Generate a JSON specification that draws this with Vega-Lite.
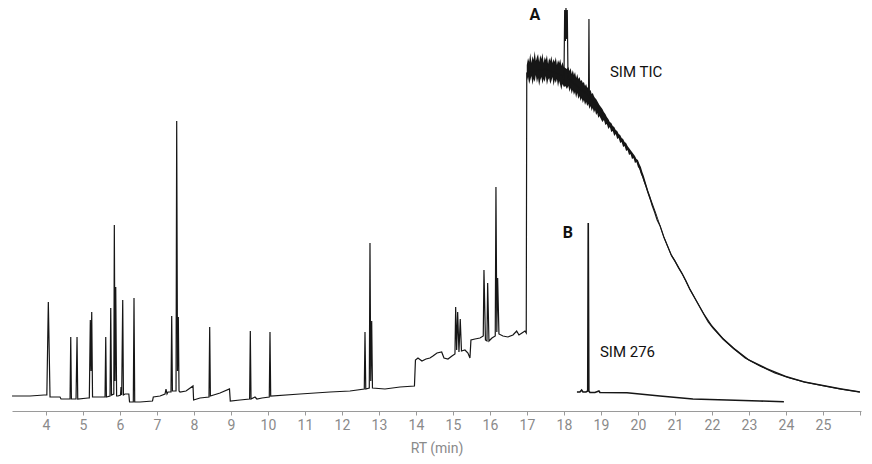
{
  "$schema": "https://vega.github.io/schema/vega-lite/v6.json",
  "width": 849,
  "height": 411,
  "autosize": {"type": "none"},
  "padding": {"left": 12, "top": 0, "right": 11, "bottom": 53},
  "background": "white",
  "config": {"view": {"stroke": null}, "font": "Roboto"},
  "datasets": {
    "traces": [
      {"s":"A","rt":3.081,"i":15},{"s":"A","rt":3.568,"i":15},{"s":"A","rt":3.946,"i":16},{"s":"A","rt":4.022,"i":16},{"s":"A","rt":4.062,"i":109},{"s":"A","rt":4.108,"i":14},
      {"s":"A","rt":4.378,"i":14},{"s":"A","rt":4.405,"i":12},{"s":"A","rt":4.649,"i":12},{"s":"A","rt":4.668,"i":74},{"s":"A","rt":4.686,"i":12},{"s":"A","rt":4.811,"i":12},
      {"s":"A","rt":4.838,"i":74},{"s":"A","rt":4.857,"i":12},{"s":"A","rt":5.135,"i":13},{"s":"A","rt":5.17,"i":13},{"s":"A","rt":5.197,"i":91},{"s":"A","rt":5.216,"i":40},
      {"s":"A","rt":5.235,"i":99},{"s":"A","rt":5.257,"i":14},{"s":"A","rt":5.459,"i":14},{"s":"A","rt":5.595,"i":14},{"s":"A","rt":5.614,"i":74},{"s":"A","rt":5.632,"i":14},
      {"s":"A","rt":5.73,"i":15},{"s":"A","rt":5.749,"i":103},{"s":"A","rt":5.77,"i":16},{"s":"A","rt":5.832,"i":17},{"s":"A","rt":5.846,"i":186},{"s":"A","rt":5.865,"i":30},
      {"s":"A","rt":5.884,"i":124},{"s":"A","rt":5.908,"i":15},{"s":"A","rt":5.946,"i":15},{"s":"A","rt":6.014,"i":16},{"s":"A","rt":6.027,"i":24},{"s":"A","rt":6.045,"i":16},
      {"s":"A","rt":6.073,"i":111},{"s":"A","rt":6.092,"i":16},{"s":"A","rt":6.135,"i":17},{"s":"A","rt":6.238,"i":17},{"s":"A","rt":6.257,"i":9},{"s":"A","rt":6.359,"i":9},
      {"s":"A","rt":6.378,"i":113},{"s":"A","rt":6.397,"i":9},{"s":"A","rt":6.541,"i":9},{"s":"A","rt":6.878,"i":10},{"s":"A","rt":6.9,"i":14},{"s":"A","rt":7.081,"i":15},
      {"s":"A","rt":7.216,"i":17},{"s":"A","rt":7.243,"i":22},{"s":"A","rt":7.27,"i":17},{"s":"A","rt":7.297,"i":19},{"s":"A","rt":7.378,"i":19},{"s":"A","rt":7.397,"i":95},
      {"s":"A","rt":7.416,"i":20},{"s":"A","rt":7.514,"i":20},{"s":"A","rt":7.532,"i":290},{"s":"A","rt":7.554,"i":40},{"s":"A","rt":7.576,"i":94},{"s":"A","rt":7.595,"i":20},
      {"s":"A","rt":7.622,"i":19},{"s":"A","rt":7.784,"i":20},{"s":"A","rt":7.973,"i":25},{"s":"A","rt":7.989,"i":11},{"s":"A","rt":8.162,"i":13},{"s":"A","rt":8.405,"i":14},
      {"s":"A","rt":8.424,"i":84},{"s":"A","rt":8.443,"i":15},{"s":"A","rt":8.703,"i":18},{"s":"A","rt":8.959,"i":22},{"s":"A","rt":8.981,"i":10},{"s":"A","rt":9.243,"i":11},
      {"s":"A","rt":9.503,"i":12},{"s":"A","rt":9.522,"i":80},{"s":"A","rt":9.541,"i":12},{"s":"A","rt":9.649,"i":14},{"s":"A","rt":9.7,"i":12},{"s":"A","rt":9.838,"i":13},
      {"s":"A","rt":10.035,"i":14},{"s":"A","rt":10.054,"i":79},{"s":"A","rt":10.073,"i":15},{"s":"A","rt":10.865,"i":17},{"s":"A","rt":11.676,"i":19},{"s":"A","rt":12.216,"i":20},
      {"s":"A","rt":12.603,"i":22},{"s":"A","rt":12.622,"i":79},{"s":"A","rt":12.643,"i":22},{"s":"A","rt":12.738,"i":23},{"s":"A","rt":12.757,"i":168},{"s":"A","rt":12.778,"i":30},
      {"s":"A","rt":12.803,"i":90},{"s":"A","rt":12.824,"i":23},{"s":"A","rt":13.162,"i":22},{"s":"A","rt":13.568,"i":24},{"s":"A","rt":13.959,"i":25},{"s":"A","rt":13.986,"i":51},
      {"s":"A","rt":14.054,"i":53},{"s":"A","rt":14.162,"i":50},{"s":"A","rt":14.27,"i":52},{"s":"A","rt":14.378,"i":53},{"s":"A","rt":14.459,"i":55},{"s":"A","rt":14.568,"i":58},
      {"s":"A","rt":14.695,"i":59},{"s":"A","rt":14.757,"i":53},{"s":"A","rt":14.865,"i":52},{"s":"A","rt":14.973,"i":55},{"s":"A","rt":15.054,"i":57},{"s":"A","rt":15.073,"i":104},
      {"s":"A","rt":15.1,"i":61},{"s":"A","rt":15.127,"i":99},{"s":"A","rt":15.162,"i":59},{"s":"A","rt":15.197,"i":92},{"s":"A","rt":15.23,"i":60},{"s":"A","rt":15.324,"i":61},
      {"s":"A","rt":15.405,"i":58},{"s":"A","rt":15.459,"i":53},{"s":"A","rt":15.486,"i":71},{"s":"A","rt":15.595,"i":72},{"s":"A","rt":15.73,"i":73},{"s":"A","rt":15.819,"i":75},
      {"s":"A","rt":15.838,"i":141},{"s":"A","rt":15.878,"i":71},{"s":"A","rt":15.919,"i":70},{"s":"A","rt":15.938,"i":128},{"s":"A","rt":15.973,"i":70},{"s":"A","rt":16.054,"i":73},
      {"s":"A","rt":16.143,"i":75},{"s":"A","rt":16.162,"i":224},{"s":"A","rt":16.186,"i":79},{"s":"A","rt":16.208,"i":133},{"s":"A","rt":16.243,"i":77},{"s":"A","rt":16.351,"i":75},
      {"s":"A","rt":16.486,"i":74},{"s":"A","rt":16.622,"i":76},{"s":"A","rt":16.722,"i":80},{"s":"A","rt":16.784,"i":76},{"s":"A","rt":16.865,"i":78},{"s":"A","rt":16.946,"i":80},
      {"s":"A","rt":16.981,"i":78},{"s":"A","rt":16.995,"i":338},
      {"s":"A","rt":17.5,"i":342},{"s":"A","rt":17.98,"i":335},{"s":"A","rt":18.0,"i":330},
      {"s":"A","rt":18.02,"i":401},{"s":"A","rt":18.04,"i":370},{"s":"A","rt":18.055,"i":403},{"s":"A","rt":18.075,"i":372},{"s":"A","rt":18.09,"i":401},
      {"s":"A","rt":18.11,"i":333},{"s":"A","rt":18.4,"i":323},{"s":"A","rt":18.665,"i":316},{"s":"A","rt":18.676,"i":392},{"s":"A","rt":18.688,"i":314},
      {"s":"A","rt":19.0,"i":300},{"s":"A","rt":19.5,"i":273},{"s":"A","rt":20.0,"i":248},{"s":"A","rt":20.32,"i":214},
      {"s":"A","rt":20.38,"i":206},
      {"s":"A","rt":20.45,"i":199},{"s":"A","rt":20.52,"i":191},{"s":"A","rt":20.6,"i":185},{"s":"A","rt":20.7,"i":174},{"s":"A","rt":20.8,"i":165},{"s":"A","rt":20.9,"i":156},
      {"s":"A","rt":21.0,"i":150},{"s":"A","rt":21.1,"i":143},{"s":"A","rt":21.2,"i":137},{"s":"A","rt":21.3,"i":130},{"s":"A","rt":21.4,"i":122},{"s":"A","rt":21.55,"i":112},
      {"s":"A","rt":21.73,"i":100},{"s":"A","rt":21.9,"i":89},{"s":"A","rt":22.03,"i":83},{"s":"A","rt":22.3,"i":72},{"s":"A","rt":22.57,"i":63},{"s":"A","rt":22.9,"i":53},
      {"s":"A","rt":23.3,"i":45},{"s":"A","rt":23.7,"i":38},{"s":"A","rt":24.1,"i":33},{"s":"A","rt":24.5,"i":29},{"s":"A","rt":24.9,"i":26},{"s":"A","rt":25.46,"i":22},
      {"s":"A","rt":26.0,"i":19},
      {"s":"B","rt":18.351,"i":19},{"s":"B","rt":18.432,"i":19},{"s":"B","rt":18.478,"i":21},{"s":"B","rt":18.514,"i":19},{"s":"B","rt":18.595,"i":19},{"s":"B","rt":18.643,"i":20},
      {"s":"B","rt":18.657,"i":188},{"s":"B","rt":18.673,"i":20},{"s":"B","rt":18.703,"i":18.5},{"s":"B","rt":18.838,"i":18.5},{"s":"B","rt":18.946,"i":20},{"s":"B","rt":18.973,"i":18.5},
      {"s":"B","rt":19.703,"i":18.3},{"s":"B","rt":20.595,"i":15},{"s":"B","rt":21.486,"i":12},{"s":"B","rt":22.405,"i":11},{"s":"B","rt":23.297,"i":10},{"s":"B","rt":23.946,"i":9.3}
    ],
    "band": [
      {"rt":16.995,"lo":330,"hi":346},{"rt":17.03,"lo":334,"hi":353},{"rt":17.06,"lo":327,"hi":349},{"rt":17.09,"lo":331,"hi":358},{"rt":17.12,"lo":335,"hi":348},
      {"rt":17.15,"lo":326,"hi":355},{"rt":17.18,"lo":332,"hi":351},{"rt":17.21,"lo":329,"hi":360},{"rt":17.24,"lo":336,"hi":350},{"rt":17.27,"lo":328,"hi":354},
      {"rt":17.3,"lo":333,"hi":357},{"rt":17.33,"lo":325,"hi":349},{"rt":17.36,"lo":331,"hi":356},{"rt":17.39,"lo":334,"hi":352},{"rt":17.42,"lo":327,"hi":358},
      {"rt":17.45,"lo":332,"hi":348},{"rt":17.48,"lo":329,"hi":354},{"rt":17.51,"lo":335,"hi":351},{"rt":17.54,"lo":326,"hi":356},{"rt":17.57,"lo":331,"hi":347},
      {"rt":17.6,"lo":333,"hi":353},{"rt":17.63,"lo":327,"hi":350},{"rt":17.66,"lo":330,"hi":355},{"rt":17.69,"lo":334,"hi":348},{"rt":17.72,"lo":325,"hi":352},
      {"rt":17.75,"lo":331,"hi":349},{"rt":17.78,"lo":328,"hi":354},{"rt":17.81,"lo":332,"hi":346},{"rt":17.84,"lo":324,"hi":351},{"rt":17.87,"lo":330,"hi":348},
      {"rt":17.9,"lo":326,"hi":352},{"rt":17.93,"lo":321,"hi":345},{"rt":17.96,"lo":327,"hi":349},
      {"rt":18.0,"lo":324,"hi":344},{"rt":18.04,"lo":325,"hi":343},{"rt":18.08,"lo":322,"hi":342},{"rt":18.12,"lo":325,"hi":344},{"rt":18.15,"lo":319,"hi":340},
      {"rt":18.18,"lo":323,"hi":343},{"rt":18.21,"lo":317,"hi":337},{"rt":18.24,"lo":321,"hi":341},{"rt":18.27,"lo":316,"hi":336},{"rt":18.3,"lo":319,"hi":339},
      {"rt":18.33,"lo":313,"hi":333},{"rt":18.36,"lo":318,"hi":337},{"rt":18.39,"lo":312,"hi":332},{"rt":18.42,"lo":315,"hi":334},{"rt":18.45,"lo":310,"hi":330},
      {"rt":18.48,"lo":313,"hi":331},{"rt":18.51,"lo":308,"hi":328},{"rt":18.54,"lo":311,"hi":329},{"rt":18.57,"lo":306,"hi":325},{"rt":18.6,"lo":309,"hi":327},
      {"rt":18.63,"lo":305,"hi":323},{"rt":18.66,"lo":307,"hi":325},{"rt":18.69,"lo":302,"hi":320},{"rt":18.72,"lo":305,"hi":321},{"rt":18.75,"lo":300,"hi":317},
      {"rt":18.78,"lo":303,"hi":318},{"rt":18.81,"lo":298,"hi":315},{"rt":18.84,"lo":301,"hi":313},{"rt":18.87,"lo":296,"hi":312},{"rt":18.9,"lo":298,"hi":310},
      {"rt":18.93,"lo":293,"hi":308},{"rt":18.96,"lo":295,"hi":306},{"rt":19.0,"lo":292,"hi":304},{"rt":19.04,"lo":289,"hi":302},{"rt":19.08,"lo":291,"hi":299},
      {"rt":19.12,"lo":286,"hi":297},{"rt":19.16,"lo":287,"hi":294},{"rt":19.2,"lo":282,"hi":292},{"rt":19.24,"lo":284,"hi":289},{"rt":19.28,"lo":279,"hi":288},
      {"rt":19.32,"lo":280,"hi":285},{"rt":19.36,"lo":275,"hi":284},{"rt":19.4,"lo":277,"hi":281},{"rt":19.44,"lo":272,"hi":280},{"rt":19.48,"lo":273,"hi":277},
      {"rt":19.52,"lo":268,"hi":276},{"rt":19.56,"lo":269,"hi":273},{"rt":19.6,"lo":264,"hi":272},{"rt":19.64,"lo":265,"hi":269},{"rt":19.68,"lo":260,"hi":268},
      {"rt":19.72,"lo":261,"hi":265},{"rt":19.76,"lo":256,"hi":263},{"rt":19.8,"lo":257,"hi":261},{"rt":19.84,"lo":252,"hi":259},{"rt":19.88,"lo":253,"hi":257},
      {"rt":19.92,"lo":248,"hi":255},{"rt":19.96,"lo":249,"hi":252},{"rt":20.0,"lo":244,"hi":251},{"rt":20.04,"lo":242,"hi":247},{"rt":20.08,"lo":237,"hi":244},
      {"rt":20.12,"lo":234,"hi":239},{"rt":20.16,"lo":229,"hi":235},{"rt":20.2,"lo":225,"hi":230},{"rt":20.24,"lo":220,"hi":225},{"rt":20.28,"lo":215.5,"hi":219.5},
      {"rt":20.32,"lo":211.5,"hi":215.5},{"rt":20.4,"lo":204.5,"hi":207.5},{"rt":20.5,"lo":194.8,"hi":197.2},{"rt":20.6,"lo":183.8,"hi":186.2},{"rt":20.7,"lo":172.8,"hi":175.2},
      {"rt":20.8,"lo":163.8,"hi":166.2},{"rt":20.9,"lo":154.8,"hi":157.2},{"rt":21.0,"lo":148.8,"hi":151.2},{"rt":21.2,"lo":135.8,"hi":138.2},{"rt":21.4,"lo":120.8,"hi":123.2},
      {"rt":21.6,"lo":108,"hi":110},{"rt":21.8,"lo":95,"hi":97},{"rt":22.0,"lo":84,"hi":86},{"rt":22.3,"lo":71.3,"hi":73.2},{"rt":22.6,"lo":61.3,"hi":63.2},
      {"rt":23.0,"lo":50.2,"hi":51.8},{"rt":23.5,"lo":41.2,"hi":42.8},{"rt":24.0,"lo":33.7,"hi":35.3},{"rt":24.5,"lo":28.2,"hi":29.8},{"rt":25.0,"lo":24.7,"hi":26.3},
      {"rt":25.5,"lo":21.2,"hi":22.8},{"rt":26.0,"lo":18.2,"hi":19.8}
    ],
    "tags": [
      {"rt":17.216,"i":396,"t":"A"},
      {"rt":18.108,"i":178,"t":"B"}
    ],
    "names": [
      {"rt":19.243,"i":339,"t":"SIM TIC"},
      {"rt":18.973,"i":59,"t":"SIM 276"}
    ]
  },
  "encoding": {
    "x": {"field": "rt", "type": "quantitative", "scale": {"domain": [3.08, 26.03], "nice": false, "zero": false},
      "axis": {"values": [4,5,6,7,8,9,10,11,12,13,14,15,16,17,18,19,20,21,22,23,24,25,26],
        "labelExpr": "datum.value == 26 ? '' : datum.label", "labelOverlap": false, "labelBound": false,
        "title": "RT (min)", "grid": false, "domainColor": "#9a9a9a", "tickColor": "#9a9a9a", "tickSize": 4,
        "labelColor": "#8a8a8a", "labelFontSize": 14, "labelFont": "Roboto", "labelPadding": 3,
        "titleColor": "#8a8a8a", "titleFontSize": 14, "titleFontWeight": "normal", "titleFont": "Roboto", "titlePadding": 9}}
  },
  "layer": [
    {
      "data": {"name": "band"},
      "mark": {"type": "area", "color": "#161616", "opacity": 1, "clip": true},
      "encoding": {
        "y": {"field": "lo", "type": "quantitative", "scale": {"domain": [0, 411], "nice": false}, "axis": null},
        "y2": {"field": "hi"}
      }
    },
    {
      "data": {"name": "traces"},
      "transform": [{"filter": "datum.s == 'A'"}],
      "mark": {"type": "line", "color": "#161616", "strokeWidth": 1.2, "clip": true},
      "encoding": {
        "y": {"field": "i", "type": "quantitative"}
      }
    },
    {
      "data": {"name": "traces"},
      "transform": [{"filter": "datum.s == 'B'"}],
      "mark": {"type": "line", "color": "#161616", "strokeWidth": 1.6, "clip": true},
      "encoding": {
        "y": {"field": "i", "type": "quantitative"}
      }
    },
    {
      "data": {"name": "tags"},
      "mark": {"type": "text", "font": "Roboto", "fontSize": 16, "fontWeight": "bold", "align": "center", "baseline": "middle", "color": "#111111"},
      "encoding": {
        "y": {"field": "i", "type": "quantitative"},
        "text": {"field": "t"}
      }
    },
    {
      "data": {"name": "names"},
      "mark": {"type": "text", "font": "Roboto", "fontSize": 15, "align": "left", "baseline": "middle", "color": "#111111"},
      "encoding": {
        "y": {"field": "i", "type": "quantitative"},
        "text": {"field": "t"}
      }
    }
  ]
}
